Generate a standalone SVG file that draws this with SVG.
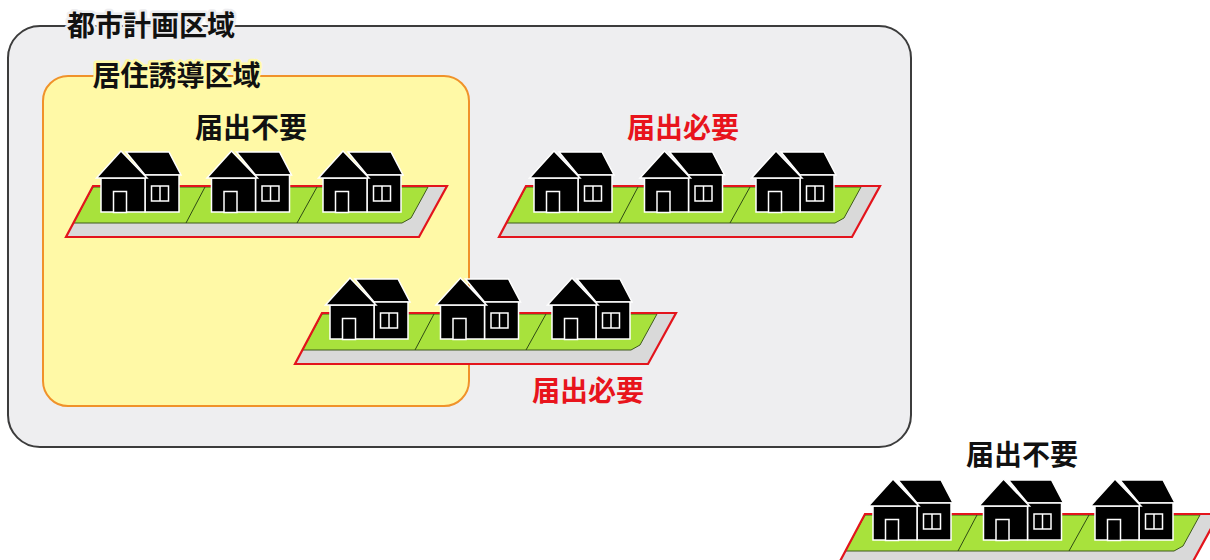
<svg xmlns="http://www.w3.org/2000/svg" xmlns:xlink="http://www.w3.org/1999/xlink" width="1210" height="560" viewBox="0 0 1210 560">
  <style>
    .label { font-family: "Noto Sans CJK JP", "Noto Sans", sans-serif; font-weight: 700; font-size: 28px; text-anchor: middle; }
    .title { fill: #111; stroke-width: 5; paint-order: stroke; stroke-linejoin: round; }
    .ok { fill: #111; }
    .need { fill: #e8141c; }
    .hs { fill: #000; stroke: #fff; stroke-width: 1.5; stroke-linejoin: miter; }
  </style>
  <defs>
    <!-- one house, apex of the gable at (0,0) -->
    <g id="house">
      <polygon class="hs" points="5,1 48,1 60,24 24,24"/>
      <rect class="hs" x="24" y="24" width="34" height="37"/>
      <rect class="hs" x="-20" y="27" width="44" height="34"/>
      <polygon class="hs" points="0,0 -24.5,27 26,27"/>
      <rect class="hs" x="-7.5" y="40.5" width="13" height="21"/>
      <rect class="hs" x="30.5" y="35" width="17" height="15"/>
      <line x1="39" y1="35" x2="39" y2="50" stroke="#fff" stroke-width="1.5"/>
    </g>
    <!-- a row of three plots with a road, origin at the top-left corner of the red outline -->
    <g id="lot">
      <polygon points="0,0 354,0 326,51 -27,51" fill="#d9d9d9"/>
      <polygon points="0,1 335,1 318,32 309,37 -19.5,37" fill="#a8e23c" stroke="#3f5a1c" stroke-width="1"/>
      <line x1="112" y1="1" x2="93" y2="37" stroke="#2f4a14" stroke-width="1"/>
      <line x1="224" y1="1" x2="204" y2="37" stroke="#2f4a14" stroke-width="1"/>
      <polygon points="0,0 354,0 326,51 -27,51" fill="none" stroke="#e3141c" stroke-width="2.2" stroke-linejoin="miter"/>
      <use xlink:href="#house" x="28" y="-35"/>
      <use xlink:href="#house" x="138.5" y="-35"/>
      <use xlink:href="#house" x="250" y="-35"/>
    </g>
  </defs>

  <rect width="1210" height="560" fill="#fff"/>

  <!-- city planning area -->
  <g id="city-area">
    <rect x="8" y="26" width="903" height="421" rx="32" ry="32" fill="#eeeef0" stroke="#3c3c3c" stroke-width="2"/>
    <text class="label title" x="151" y="36" stroke="#eeeef0">都市計画区域</text>
  </g>

  <!-- residential guidance area -->
  <g id="residential-area">
    <rect x="43" y="76" width="426" height="330" rx="25" ry="25" fill="#fff9a6" stroke="#f0922a" stroke-width="2"/>
    <text class="label title" x="176.5" y="86" stroke="#fff9a6">居住誘導区域</text>
  </g>

  <!-- development groups -->
  <g id="group-inside">
    <use xlink:href="#lot" x="93" y="186"/>
    <text class="label ok" x="251" y="138">届出不要</text>
  </g>

  <g id="group-outside">
    <use xlink:href="#lot" x="526" y="186"/>
    <text class="label need" x="683" y="138">届出必要</text>
  </g>

  <g id="group-straddling">
    <use xlink:href="#lot" x="322" y="313"/>
    <text class="label need" x="588" y="401">届出必要</text>
  </g>

  <g id="group-beyond">
    <use xlink:href="#lot" x="865" y="514"/>
    <text class="label ok" x="1022" y="465">届出不要</text>
  </g>

  <g id="connectors"/>
</svg>
